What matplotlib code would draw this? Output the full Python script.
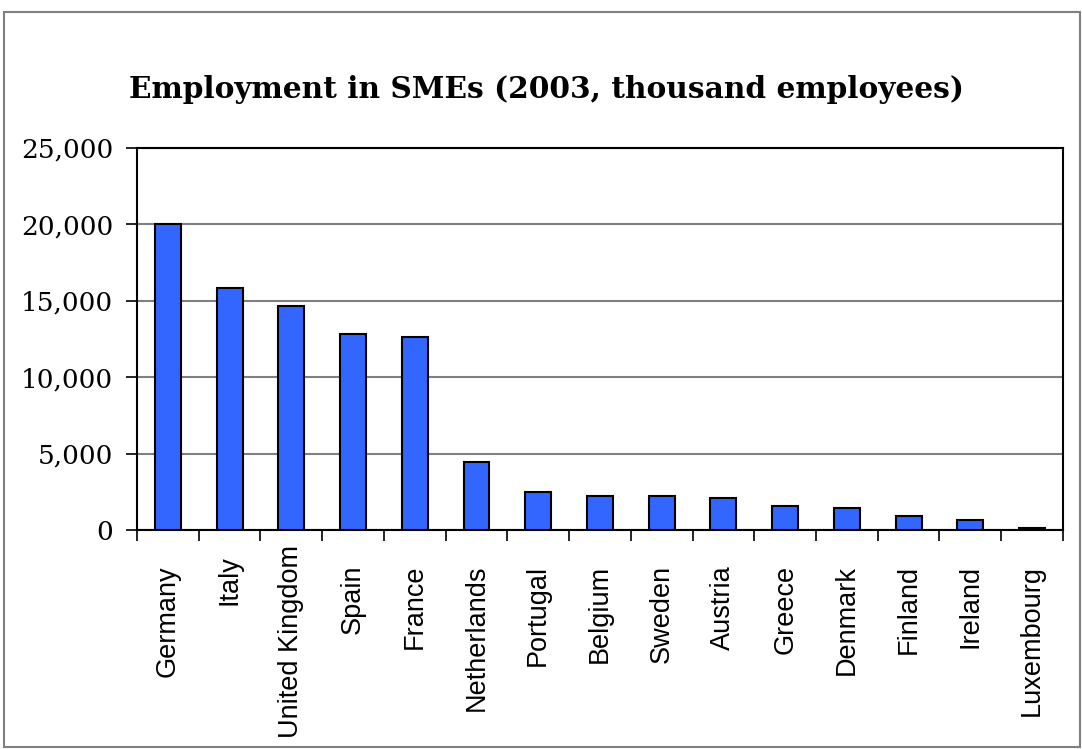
import matplotlib
matplotlib.use('Agg')
from matplotlib import pyplot as plt
from matplotlib.patches import Rectangle
from matplotlib.ticker import FuncFormatter, FixedLocator
from matplotlib.transforms import offset_copy
import numpy as np

countries = ['Germany', 'Italy', 'United Kingdom', 'Spain', 'France',
             'Netherlands', 'Portugal', 'Belgium', 'Sweden', 'Austria',
             'Greece', 'Denmark', 'Finland', 'Ireland', 'Luxembourg']
employees = [20000, 15820, 14640, 12800, 12650,
             4470, 2500, 2240, 2230, 2110,
             1570, 1460, 920, 650, 150]
y_ticks = [0, 5000, 10000, 15000, 20000, 25000]

fig = plt.figure(figsize=(10.82, 7.49), dpi=100)
fig.patches.append(Rectangle((4 / 1082, 2 / 749), 1076 / 1082, 735 / 749,
                             transform=fig.transFigure, fill=False,
                             edgecolor='#808080', linewidth=1.5))

ax = fig.add_axes([0.1266, 0.2924, 0.8558, 0.51])
x = np.arange(len(countries))
ax.bar(x, employees, width=0.42, color='#3366ff', edgecolor='black',
       linewidth=1.5, zorder=3)

ax.set_xlim(-0.5, len(countries) - 0.5)
ax.set_ylim(0, 25000)
ax.set_yticks(y_ticks)
ax.yaxis.set_major_formatter(FuncFormatter(lambda v, p: f'{int(v):,}'))
ax.yaxis.grid(True, color='#808080', linewidth=1.5, zorder=0)

# tick marks sit on the category boundaries
ax.set_xticks([])
ax.xaxis.set_minor_locator(FixedLocator(np.arange(len(countries) + 1) - 0.5))
ax.tick_params(axis='x', which='minor', length=8, width=1.2, direction='out')
ax.tick_params(axis='y', length=8, width=1.2, direction='out', pad=9)
for lab in ax.get_yticklabels():
    lab.set_family('DejaVu Serif')
    lab.set_fontsize(19)

# rotated country names under each bar; the long ones are lifted a little
# so they stay inside the frame
trans = ax.get_xaxis_transform()
for i, name in enumerate(countries):
    drop = 35
    if name == 'United Kingdom':
        drop = 15
    elif name == 'Italy':
        drop = 25
    t = offset_copy(trans, fig=fig, y=-drop, units='dots')
    ax.text(i, 0, name, transform=t, rotation=90, ha='center', va='top',
            fontsize=19.5, family='Liberation Sans')

for s in ax.spines.values():
    s.set_color('black')
    s.set_linewidth(1.5)

fig.text(0.505, 0.88, 'Employment in SMEs (2003, thousand employees)',
         ha='center', va='center', fontsize=21.3, fontweight='bold',
         family='DejaVu Serif')

fig.savefig('out.png', dpi=100)
